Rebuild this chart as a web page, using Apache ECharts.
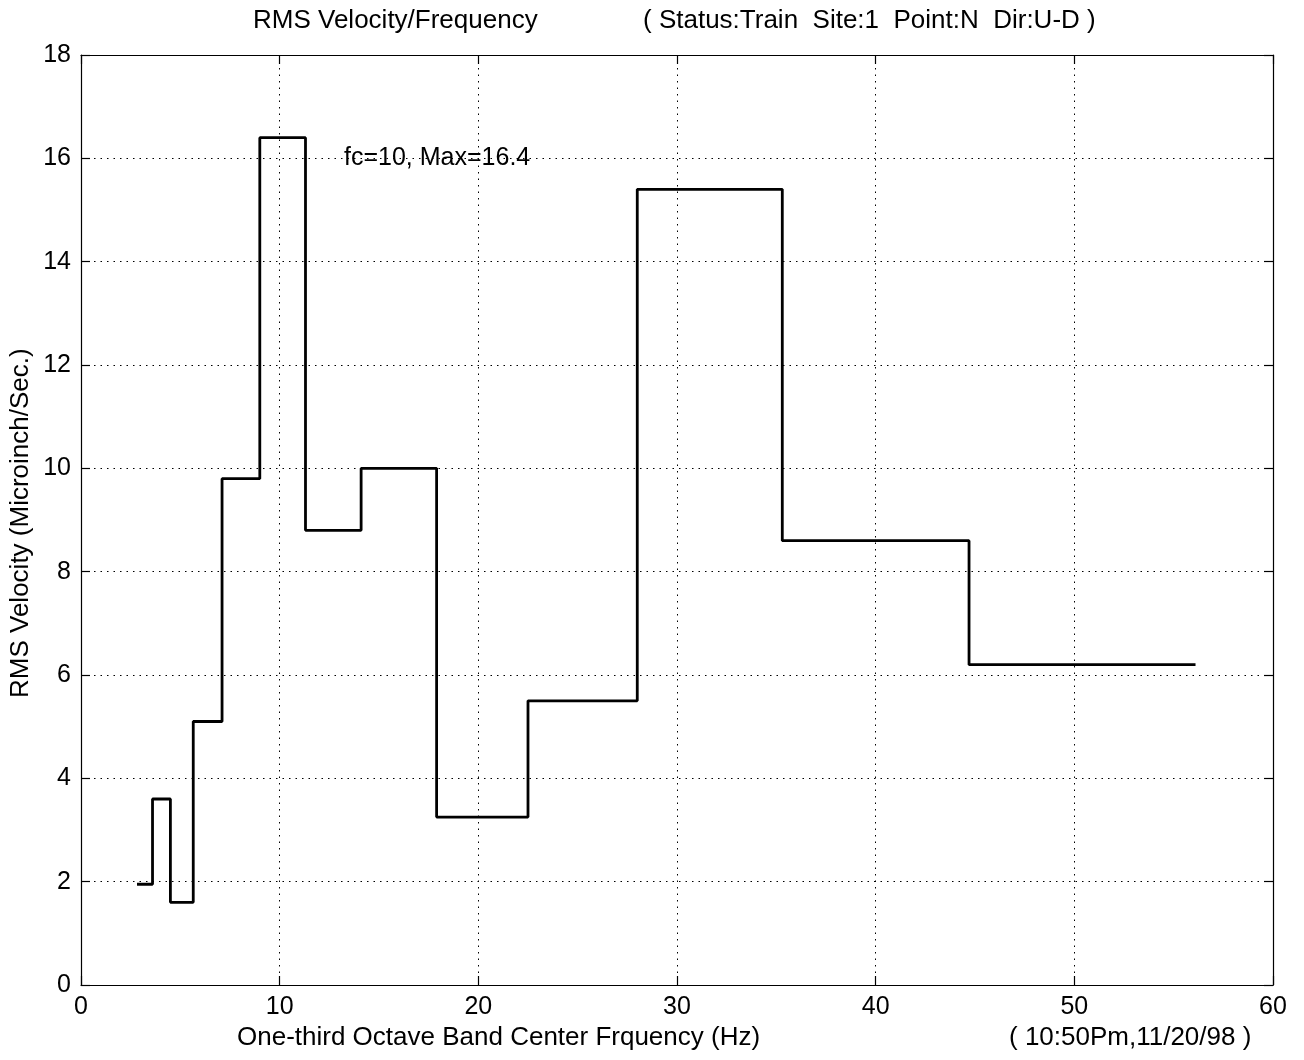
<!DOCTYPE html>
<html><head><meta charset="utf-8">
<script src="https://cdn.jsdelivr.net/npm/echarts@6/dist/echarts.min.js"></script>
<style>html,body{margin:0;padding:0;background:#fff}#c{width:1304px;height:1060px}</style>
</head><body><div id="c"></div>
<script>
// One-third octave band edges (Hz) as drawn, and RMS velocity per band (microinch/sec)
const bandEdges = [2.82, 3.6, 4.5, 5.65, 7.1, 9.0, 11.3, 14.1, 17.9, 22.5, 28.0, 35.3, 44.7, 56.1];
const bandCenters = [3.15, 4, 5, 6.3, 8, 10, 12.5, 16, 20, 25, 31.5, 40, 50];
const rmsValues = [1.95, 3.6, 1.6, 5.1, 9.8, 16.4, 8.8, 10.0, 3.25, 5.5, 15.4, 8.6, 6.2];
const xTicks = [0, 10, 20, 30, 40, 50, 60];
const yTicks = [0, 2, 4, 6, 8, 10, 12, 14, 16, 18];

const stepData = bandEdges.map((e, i) => [e, rmsValues[Math.min(i, rmsValues.length - 1)]]);

const font = 'Liberation Sans, Arial, sans-serif';
const chart = echarts.init(document.getElementById('c'), null, {renderer: 'canvas'});
const gridLine = {show: true, lineStyle: {color: '#000', type: [1.5, 5], width: 1}};
const axisLine = {show: true, onZero: false, lineStyle: {color: '#000', width: 1.2}};
const tickIn = {show: true, inside: true, length: 9, lineStyle: {color: '#000', width: 1.2}};
chart.setOption({
  animation: false,
  backgroundColor: '#fff',
  grid: {left: 81, top: 55, right: 31, bottom: 75},
  xAxis: [{
    type: 'value', min: xTicks[0], max: xTicks[xTicks.length - 1], interval: 10,
    axisLine: axisLine, axisTick: tickIn, splitLine: gridLine,
    axisLabel: {color: '#000', fontSize: 25, fontFamily: font, margin: 10}
  }, {
    type: 'value', position: 'top', min: xTicks[0], max: xTicks[xTicks.length - 1], interval: 10,
    axisLine: axisLine, axisTick: tickIn, splitLine: {show: false}, axisLabel: {show: false}
  }],
  yAxis: [{
    type: 'value', min: yTicks[0], max: yTicks[yTicks.length - 1], interval: 2,
    axisLine: axisLine, axisTick: tickIn, splitLine: gridLine,
    axisLabel: {color: '#000', fontSize: 25, fontFamily: font, margin: 10}
  }, {
    type: 'value', position: 'right', min: yTicks[0], max: yTicks[yTicks.length - 1], interval: 2,
    axisLine: axisLine, axisTick: tickIn, splitLine: {show: false}, axisLabel: {show: false}
  }],
  series: [{
    type: 'line', step: 'end', data: stepData, showSymbol: false, symbol: 'none',
    lineStyle: {color: '#000', width: 2.8}, z: 5
  }],
  graphic: [
    {type: 'text', left: 253, top: 8, style: {text: 'RMS Velocity/Frequency', font: '26px ' + font, fill: '#000'}},
    {type: 'text', left: 643, top: 8, style: {text: '( Status:Train  Site:1  Point:N  Dir:U-D )', font: '26px ' + font, fill: '#000'}},
    {type: 'text', left: 344, top: 146, style: {text: 'fc=10, Max=16.4', font: '25px ' + font, fill: '#000'}},
    {type: 'text', left: 237, top: 1025, style: {text: 'One-third Octave Band Center Frquency (Hz)', font: '26px ' + font, fill: '#000'}},
    {type: 'text', left: 1009, top: 1025, style: {text: '( 10:50Pm,11/20/98 )', font: '26px ' + font, fill: '#000'}},
    {type: 'text', x: 8, y: 698, rotation: Math.PI / 2, style: {text: 'RMS Velocity (Microinch/Sec.)', font: '26px ' + font, fill: '#000'}}
  ]
});
</script></body></html>
